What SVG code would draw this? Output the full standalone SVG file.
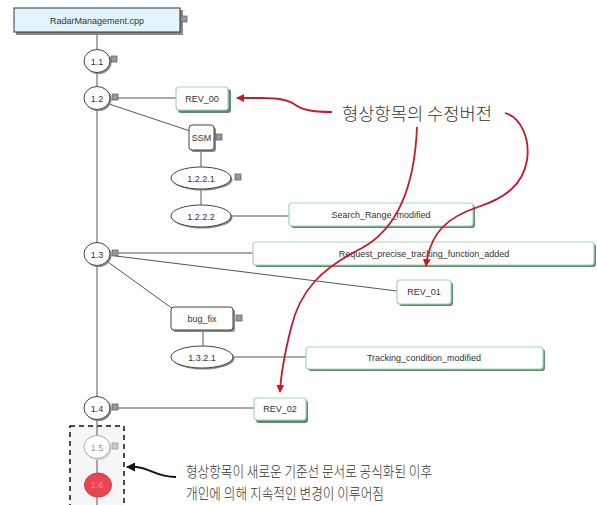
<svg xmlns="http://www.w3.org/2000/svg" width="597" height="505" viewBox="0 0 597 505">
<defs>
<style>
.ln{stroke:#555;stroke-width:1;fill:none}
.lbl{font-family:"Liberation Sans",Arial,sans-serif;font-size:9px;fill:#333;text-anchor:middle}
.kr{font-family:"Noto Sans CJK KR","Noto Sans",sans-serif;fill:#333;font-weight:300}
.nd{fill:#fff;stroke:#444;stroke-width:1}
.sh{fill:#8a8a8a}
.rsh{fill:#5f8a72}
.rev{fill:#fff;stroke:#a6d6b2;stroke-width:1.2}
.sq{fill:#9a9a9a;stroke:#555;stroke-width:0.7}
.red{stroke:#c8182a;stroke-width:1.8;fill:none}
</style>
<marker id="ra" markerWidth="8" markerHeight="8" refX="7" refY="4" orient="auto" markerUnits="userSpaceOnUse">
<path d="M0,0 L8,4 L0,8 z" fill="#c8182a"/>
</marker>
<marker id="ka" markerWidth="9" markerHeight="9" refX="8" refY="4.5" orient="auto" markerUnits="userSpaceOnUse">
<path d="M0,0 L9,4.5 L0,9 z" fill="#111"/>
</marker>
</defs>
<rect width="597" height="505" fill="#fff"/>

<g id="baseline-box">
<rect x="70" y="426" width="54" height="82" fill="#f6f6f6" stroke="#111" stroke-width="1.5" stroke-dasharray="5,4"/>
</g>

<g id="connectors">
<line class="ln" x1="97" y1="32" x2="97" y2="505"/>
<line class="ln" x1="118" y1="98" x2="176" y2="98"/>
<line class="ln" x1="109" y1="104" x2="190" y2="131"/>
<line class="ln" x1="201" y1="150" x2="201" y2="167"/>
<line class="ln" x1="201" y1="189" x2="201" y2="205"/>
<line class="ln" x1="232" y1="216" x2="289" y2="216"/>
<line class="ln" x1="118" y1="253" x2="253" y2="253"/>
<line class="ln" x1="116" y1="256" x2="397" y2="291"/>
<line class="ln" x1="108" y1="262" x2="173" y2="309"/>
<line class="ln" x1="203" y1="330" x2="203" y2="346"/>
<line class="ln" x1="233" y1="357" x2="306" y2="357"/>
<line class="ln" x1="116" y1="408" x2="254" y2="408"/>
</g>

<g id="root">
<rect class="sh" x="16" y="10" width="167" height="25"/>
<rect x="14" y="8" width="166" height="24" fill="#e2f5fc" stroke="#333" stroke-width="1"/>
<text class="lbl" x="97" y="23.5" font-size="9.5">RadarManagement.cpp</text>
<rect class="sq" x="181" y="16" width="6" height="6"/>
</g>

<g id="n1-1">
<ellipse class="sh" cx="98.5" cy="62.5" rx="13" ry="11.5"/>
<ellipse class="nd" cx="97" cy="61" rx="13" ry="11.5"/>
<text class="lbl" x="97" y="64.5">1.1</text>
<rect class="sq" x="111" y="56" width="6" height="6"/>
</g>

<g id="n1-2">
<ellipse class="sh" cx="98.5" cy="99.5" rx="13" ry="11.5"/>
<ellipse class="nd" cx="97" cy="98" rx="13" ry="11.5"/>
<text class="lbl" x="97" y="101.5">1.2</text>
<rect class="sq" x="112" y="94" width="6" height="6"/>
</g>

<g id="rev00">
<rect class="rsh" x="178" y="89" width="53" height="24" rx="3"/>
<rect class="rev" x="176" y="87" width="52" height="23" rx="3"/>
<text class="lbl" x="202" y="101.5">REV_00</text>
</g>

<g id="ssm">
<rect class="sh" x="191" y="127" width="25" height="25" rx="3"/>
<rect class="nd" x="189" y="125" width="25" height="25" rx="3"/>
<text class="lbl" x="201.5" y="140.5">SSM</text>
<rect class="sq" x="216" y="134" width="6" height="6"/>
</g>

<g id="n1-2-2-1">
<ellipse class="sh" cx="202.5" cy="179.5" rx="30" ry="11"/>
<ellipse class="nd" cx="201" cy="178" rx="30" ry="11"/>
<text class="lbl" x="201" y="181.5">1.2.2.1</text>
<rect class="sq" x="235" y="174" width="6" height="6"/>
</g>

<g id="n1-2-2-2">
<ellipse class="sh" cx="202.5" cy="217.5" rx="30" ry="11"/>
<ellipse class="nd" cx="201" cy="216" rx="30" ry="11"/>
<text class="lbl" x="201" y="219.5">1.2.2.2</text>
</g>

<g id="search">
<rect class="rsh" x="291" y="205" width="184" height="23" rx="3"/>
<rect class="rev" x="289" y="203" width="184" height="23" rx="3"/>
<text class="lbl" x="381" y="217.5">Search_Range_modified</text>
</g>

<g id="n1-3">
<ellipse class="sh" cx="98.5" cy="255.5" rx="13" ry="11.5"/>
<ellipse class="nd" cx="97" cy="254" rx="13" ry="11.5"/>
<text class="lbl" x="97" y="257.5">1.3</text>
<rect class="sq" x="112" y="250" width="6" height="6"/>
</g>

<g id="request">
<rect class="rsh" x="255" y="244" width="341" height="23" rx="3"/>
<rect class="rev" x="253" y="242" width="341" height="23" rx="3"/>
<text class="lbl" x="424" y="256.5">Request_precise_tracking_function_added</text>
</g>

<g id="rev01">
<rect class="rsh" x="399" y="282" width="54" height="24" rx="3"/>
<rect class="rev" x="397" y="280" width="54" height="24" rx="3"/>
<text class="lbl" x="424" y="295">REV_01</text>
</g>

<g id="bugfix">
<rect class="sh" x="173" y="309" width="62" height="23" rx="3"/>
<rect class="nd" x="171" y="307" width="62" height="23" rx="3"/>
<text class="lbl" x="202" y="321.5">bug_fix</text>
<rect class="sq" x="236" y="315" width="6" height="6"/>
</g>

<g id="n1-3-2-1">
<ellipse class="sh" cx="203.5" cy="358.5" rx="31" ry="11"/>
<ellipse class="nd" cx="202" cy="357" rx="31" ry="11"/>
<text class="lbl" x="202" y="360.5">1.3.2.1</text>
</g>

<g id="tracking">
<rect class="rsh" x="308" y="349" width="237" height="22" rx="3"/>
<rect class="rev" x="306" y="347" width="237" height="22" rx="3"/>
<text class="lbl" x="424" y="361">Tracking_condition_modified</text>
</g>

<g id="n1-4">
<ellipse class="sh" cx="98.5" cy="409.5" rx="13" ry="11.5"/>
<ellipse class="nd" cx="97" cy="408" rx="13" ry="11.5"/>
<text class="lbl" x="97" y="411.5">1.4</text>
<rect class="sq" x="112" y="404" width="6" height="6"/>
</g>

<g id="rev02">
<rect class="rsh" x="256" y="400" width="52" height="23" rx="3"/>
<rect class="rev" x="254" y="398" width="52" height="22" rx="3"/>
<text class="lbl" x="280" y="412">REV_02</text>
</g>

<g id="n1-5">
<ellipse cx="98.5" cy="448.5" rx="13" ry="11.5" fill="#d8d8d8"/>
<ellipse cx="97" cy="447" rx="13" ry="11.5" fill="#fff" stroke="#aaa" stroke-width="1"/>
<text class="lbl" x="97" y="450.5" style="fill:#999">1.5</text>
<rect x="112" y="443" width="6" height="6" fill="#c8c8c8" stroke="#999" stroke-width="0.7"/>
</g>

<g id="n1-6">
<ellipse cx="98" cy="485" rx="13.5" ry="12" fill="#e84652" stroke="#d63a46" stroke-width="1"/>
<text class="lbl" x="97" y="488" style="fill:#f08a92">1.6</text>
</g>

<g id="annotations">
<text class="kr" x="342" y="120" font-size="17" textLength="150" lengthAdjust="spacingAndGlyphs">형상항목의 수정버전</text>
<path class="red" d="M332,112 C312,112 302,110 294,104 C287,99 275,98 262,98 L237,98" marker-end="url(#ra)"/>
<path class="red" d="M417,127 C415,178 402,226 362,248 C322,268 300,290 291,328 C284,356 281,372 280,392" marker-end="url(#ra)"/>
<path class="red" d="M505,113 C522,118 530,140 527,160 C523,185 505,198 478,207 C448,217 430,232 426,266" marker-end="url(#ra)"/>
<text class="kr" x="186" y="477" font-size="15" textLength="246" lengthAdjust="spacingAndGlyphs">형상항목이 새로운 기준선 문서로 공식화된 이후</text>
<text class="kr" x="186" y="499" font-size="15" textLength="198" lengthAdjust="spacingAndGlyphs">개인에 의해 지속적인 변경이 이루어짐</text>
<path d="M176,477 C156,477 150,468 136,467 L127,467" stroke="#111" stroke-width="1.8" fill="none" marker-end="url(#ka)"/>
</g>
</svg>
